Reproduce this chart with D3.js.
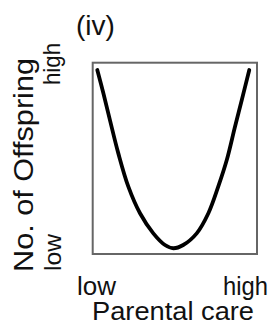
<!DOCTYPE html>
<html><head><meta charset="utf-8">
<script src="https://cdn.jsdelivr.net/npm/d3@7"></script>
<style>body{margin:0;background:#fff}svg{display:block}text{font-family:"Liberation Sans",Arial,sans-serif;fill:#111}</style>
</head><body><svg id="c" width="273" height="332"></svg>
<script>
// Parental care (x, 0-100 relative) vs number of offspring (y, 0-100 relative)
const care = [2.8, 6.5, 10.5, 15.6, 21.7, 28.8, 36.9, 44.0, 49.1, 55.1, 63.3, 70.4, 76.4, 81.6, 86.6, 90.7, 95.3];
const offspring = [96.2, 84.0, 70.0, 52.6, 35.2, 21.3, 10.8, 4.7, 3.0, 4.7, 10.8, 21.3, 35.2, 49.1, 66.5, 80.4, 96.2];
const xTickLabels = ["low", "high"];
const yTickLabels = ["low", "high"];
const panelLabel = "(iv)";
const xTitle = "Parental care";
const yTitle = "No. of Offspring";

const svg = d3.select("#c");
const m = {l: 92.7, r: 257, t: 62.7, b: 254};
const x = d3.scaleLinear().domain([0, 100]).range([m.l, m.r]);
const y = d3.scaleLinear().domain([0, 100]).range([m.b, m.t]);

svg.append("rect").attr("x", x(0)).attr("y", y(100))
  .attr("width", x(100) - x(0)).attr("height", y(0) - y(100))
  .attr("fill", "none").attr("stroke", "#666").attr("stroke-width", 2);

const pts = care.map((c, i) => [c, offspring[i]]);
svg.append("path").datum(pts)
  .attr("d", d3.line().x(d => x(d[0])).y(d => y(d[1])).curve(d3.curveCatmullRom))
  .attr("fill", "none").attr("stroke", "#000").attr("stroke-width", 3.8)
  .attr("stroke-linecap", "round");

function txt(s, px, py, size, len, rot) {
  const t = svg.append("text").text(s).attr("font-size", size);
  if (len) t.attr("textLength", len).attr("lengthAdjust", "spacingAndGlyphs");
  if (rot) t.attr("transform", `translate(${px},${py}) rotate(-90)`);
  else t.attr("x", px).attr("y", py);
  return t;
}
txt(panelLabel, 76, 35, 28, null);
txt(xTickLabels[0], 77, 295, 26, 39);
txt(xTickLabels[1], 223, 295, 26, 45);
txt(xTitle, 92, 320, 25, 162);
txt(yTitle, 33, 272, 27, 214, true);
txt(yTickLabels[0], 61, 271, 24, 37, true);
txt(yTickLabels[1], 60, 85, 24, 42, true);
</script></body></html>
